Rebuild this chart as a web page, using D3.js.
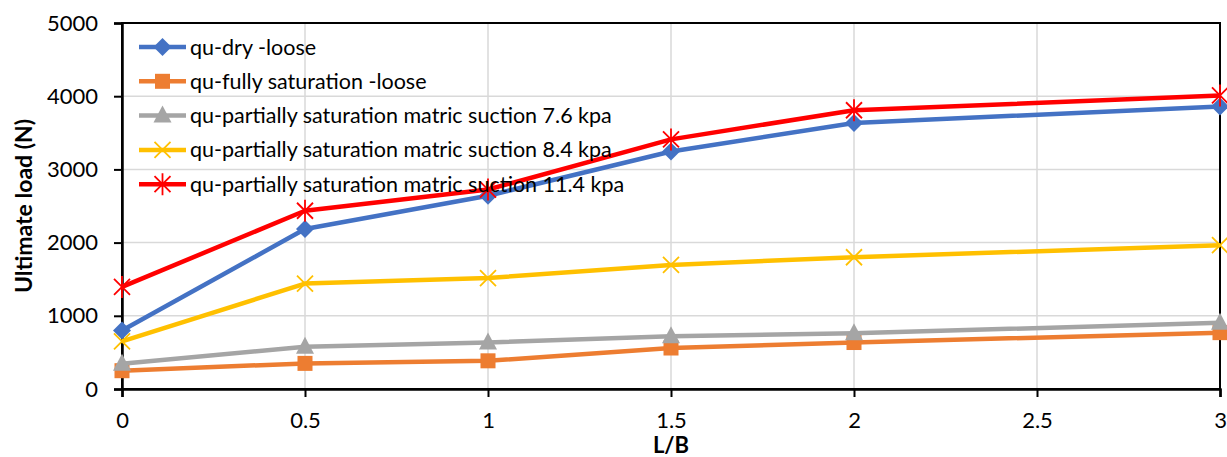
<!DOCTYPE html>
<html>
<head>
<meta charset="utf-8">
<script src="https://cdn.jsdelivr.net/npm/d3@7"></script>
<style>
  body { margin: 0; background: #fff; }
  svg text { font-family: Lato, "Open Sans", sans-serif; fill: #000; }
</style>
</head>
<body>
<svg id="chart"></svg>
<script>
var ratios = [0, 0.5, 1, 1.5, 2, 3];
var dryLoose = [800, 2185, 2640, 3245, 3635, 3860];
var fullySat = [250, 350, 385, 560, 635, 770];
var partial76 = [345, 578, 635, 722, 760, 905];
var partial84 = [650, 1440, 1516, 1695, 1800, 1965];
var partial114 = [1395, 2435, 2725, 3410, 3808, 4010];
var seriesNames = [
    'qu-dry -loose',
    'qu-fully saturation -loose',
    'qu-partially saturation matric suction 7.6 kpa',
    'qu-partially saturation matric suction 8.4 kpa',
    'qu-partially saturation matric suction 11.4 kpa'
];
var seriesColors = ['#4472c4', '#ed7d31', '#a5a5a5', '#ffc000', '#ff0000'];
var seriesMarkers = ['diamond', 'square', 'triangle', 'x', 'star'];
var xTicks = [0, 0.5, 1, 1.5, 2, 2.5, 3];
var yTicks = [0, 1000, 2000, 3000, 4000, 5000];

var width = 1227, height = 457;
var margin = { left: 122, right: 7, top: 23, bottom: 68 };

var svg = d3.select('#chart')
    .attr('width', width)
    .attr('height', height);

var x = d3.scaleLinear().domain([0, 3]).range([margin.left, width - margin.right]);
var y = d3.scaleLinear().domain([0, 5000]).range([height - margin.bottom, margin.top]);

var series = [dryLoose, fullySat, partial76, partial84, partial114].map(function(vals, i) {
    return {
        name: seriesNames[i],
        color: seriesColors[i],
        marker: seriesMarkers[i],
        points: vals.map(function(v, j) { return { x: ratios[j], y: v }; })
    };
});

// grid
svg.append('g').selectAll('line')
    .data(yTicks.slice(1))
    .enter().append('line')
    .attr('x1', x(0)).attr('x2', x(3))
    .attr('y1', function(d) { return y(d); })
    .attr('y2', function(d) { return y(d); })
    .attr('stroke', '#d9d9d9').attr('stroke-width', 1.5);
svg.append('g').selectAll('line')
    .data(xTicks.slice(1))
    .enter().append('line')
    .attr('y1', y(0)).attr('y2', y(5000))
    .attr('x1', function(d) { return x(d); })
    .attr('x2', function(d) { return x(d); })
    .attr('stroke', '#d9d9d9').attr('stroke-width', 1.5);

// plot frame
svg.append('rect')
    .attr('x', x(0)).attr('y', y(5000))
    .attr('width', x(3) - x(0)).attr('height', y(0) - y(5000))
    .attr('fill', 'none').attr('stroke', '#000').attr('stroke-width', 2);

// axes
var xAxis = svg.append('g')
    .attr('transform', 'translate(0,' + y(0) + ')')
    .call(d3.axisBottom(x).tickValues(xTicks).tickSize(8).tickPadding(15)
        .tickFormat(function(d) { return String(d); }));
var yAxis = svg.append('g')
    .attr('transform', 'translate(' + x(0) + ',0)')
    .call(d3.axisLeft(y).tickValues(yTicks).tickSize(8).tickPadding(16)
        .tickFormat(function(d) { return String(d); }));
[xAxis, yAxis].forEach(function(ax) {
    ax.select('.domain').attr('stroke', '#000').attr('stroke-width', 2.5);
    ax.selectAll('.tick line').attr('stroke', '#000').attr('stroke-width', 2);
    ax.selectAll('.tick text')
        .style('font-family', 'Lato, sans-serif')
        .style('font-size', '22px');
});

svg.append('text')
    .attr('x', (x(0) + x(3)) / 2).attr('y', 453)
    .attr('text-anchor', 'middle')
    .style('font-size', '22px').style('font-weight', 'bold')
    .text('L/B');
svg.append('text')
    .attr('transform', 'translate(32,' + ((y(0) + y(5000)) / 2) + ') rotate(-90)')
    .attr('text-anchor', 'middle')
    .style('font-size', '23px').style('font-weight', 'bold')
    .text('Ultimate load (N)');

function drawMarker(g, type, color) {
    if (type === 'diamond') {
        g.append('path').attr('d', 'M0,-9L9,0L0,9L-9,0Z').attr('fill', color);
    } else if (type === 'square') {
        g.append('rect').attr('x', -7.5).attr('y', -7.5).attr('width', 15).attr('height', 15).attr('fill', color);
    } else if (type === 'triangle') {
        g.append('path').attr('d', 'M0,-10L9,7L-9,7Z').attr('fill', color);
    } else if (type === 'x') {
        g.append('path').attr('d', 'M-8,-8L8,8M-8,8L8,-8')
            .attr('stroke', color).attr('stroke-width', 1.8).attr('fill', 'none');
    } else if (type === 'star') {
        g.append('path').attr('d', 'M-8,-8L8,8M-8,8L8,-8M0,-11L0,11')
            .attr('stroke', color).attr('stroke-width', 1.8).attr('fill', 'none');
    }
}

var line = d3.line()
    .x(function(d) { return x(d.x); })
    .y(function(d) { return y(d.y); });

series.forEach(function(s) {
    svg.append('path')
        .datum(s.points)
        .attr('d', line)
        .attr('fill', 'none')
        .attr('stroke', s.color)
        .attr('stroke-width', 4.5)
        .attr('stroke-linejoin', 'round');
    s.points.forEach(function(p) {
        var g = svg.append('g').attr('transform', 'translate(' + x(p.x) + ',' + y(p.y) + ')');
        drawMarker(g, s.marker, s.color);
    });
});

// legend
var legend = svg.append('g').attr('transform', 'translate(139,47)');
series.forEach(function(s, i) {
    var row = legend.append('g').attr('transform', 'translate(0,' + (i * 34.3) + ')');
    row.append('line').attr('x1', 0).attr('x2', 47)
        .attr('stroke', s.color).attr('stroke-width', 4.5);
    drawMarker(row.append('g').attr('transform', 'translate(23.5,0)'), s.marker, s.color);
    row.append('text')
        .attr('x', 51).attr('y', 0).attr('dy', '0.35em')
        .style('font-size', '21.5px')
        .text(s.name);
});
</script>
</body>
</html>
